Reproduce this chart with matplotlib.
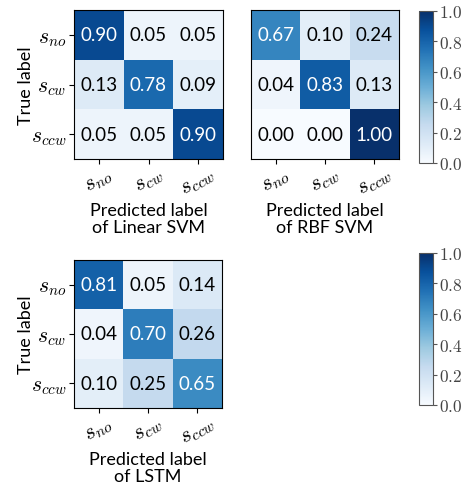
import numpy as np
import matplotlib
matplotlib.use('Agg')
import matplotlib.pyplot as plt

plt.rcParams['mathtext.fontset'] = 'cm'
plt.rcParams['font.family'] = ['Lato', 'DejaVu Sans']

classes = ['$s_{no}$', '$s_{cw}$', '$s_{ccw}$']
cm_linear = np.array([[0.90, 0.05, 0.05],
                      [0.13, 0.78, 0.09],
                      [0.05, 0.05, 0.90]])
cm_rbf = np.array([[0.67, 0.10, 0.24],
                   [0.04, 0.83, 0.13],
                   [0.00, 0.00, 1.00]])
cm_lstm = np.array([[0.81, 0.05, 0.14],
                    [0.04, 0.70, 0.26],
                    [0.10, 0.25, 0.65]])
cbar_ticks = [0.0, 0.2, 0.4, 0.6, 0.8, 1.0]

W, H = 466, 489
fig = plt.figure(figsize=(W / 100, H / 100), dpi=100)


def px_axes(x0, y0, x1, y1):
    return fig.add_axes([x0 / W, 1 - y1 / H, (x1 - x0) / W, (y1 - y0) / H])


def plot_cm(ax, cm, name, ylabel=True):
    im = ax.imshow(cm, cmap='Blues', vmin=0, vmax=1, interpolation='nearest', aspect='auto')
    for i in range(3):
        for j in range(3):
            ax.text(j, i, f'{cm[i, j]:.2f}', ha='center', va='center', fontsize=13.5,
                    color='white' if cm[i, j] > 0.5 else 'black')
    ax.set_xticks(range(3))
    ax.set_xticklabels(classes, rotation=30, fontsize=16)
    ax.tick_params(axis='x', pad=0)
    if ylabel:
        ax.set_yticks(range(3))
        ax.set_yticklabels(classes, fontsize=15.5)
        ax.tick_params(axis='y', pad=2)
        ax.set_ylabel('True label', fontsize=13, labelpad=-2)
    else:
        ax.set_yticks([])
    ax.set_xlabel('Predicted label\nof ' + name, fontsize=13, linespacing=1.05, labelpad=2)
    return im


def colorbar(im, cax):
    cb = fig.colorbar(im, cax=cax, ticks=cbar_ticks)
    cb.ax.set_yticklabels([f'${t:.1f}$' for t in cbar_ticks], fontsize=12.5, color='#444444')
    cb.outline.set_edgecolor('#555555')
    cb.ax.tick_params(color='#555555', length=3, pad=1)


ax1 = px_axes(74, 11, 223, 160)
im = plot_cm(ax1, cm_linear, 'Linear SVM')
ax2 = px_axes(251, 11, 399, 160)
plot_cm(ax2, cm_rbf, 'RBF SVM', ylabel=False)
colorbar(im, px_axes(419, 12, 433, 164))

ax3 = px_axes(74, 261, 222, 409)
im3 = plot_cm(ax3, cm_lstm, 'LSTM')
colorbar(im3, px_axes(419, 254, 433, 406))

fig.savefig('out.png', dpi=100)
